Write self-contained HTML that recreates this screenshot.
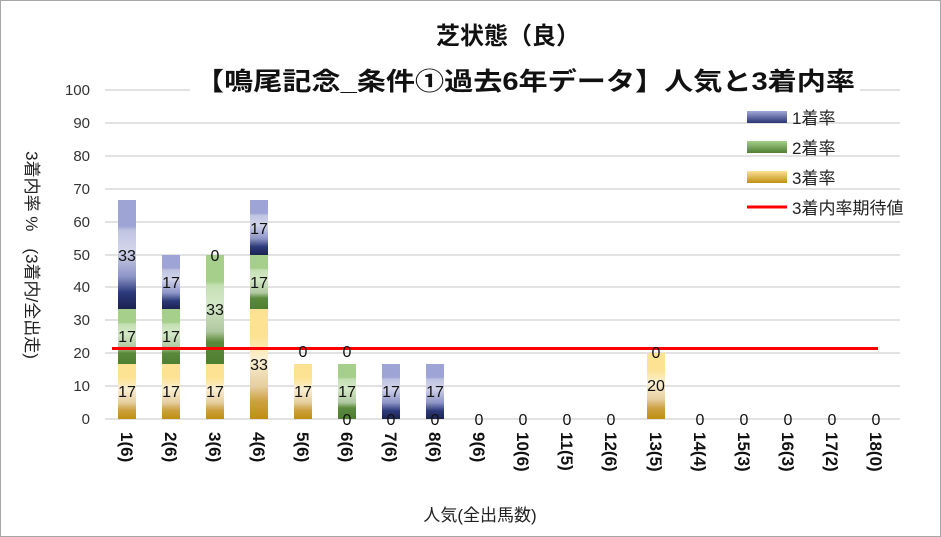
<!DOCTYPE html>
<html><head><meta charset="utf-8"><style>
html,body{margin:0;padding:0;background:#fff}
svg{display:block}
text{font-family:"Liberation Sans","Noto Sans CJK JP",sans-serif}
</style></head><body>
<svg width="941" height="537" viewBox="0 0 941 537" xmlns="http://www.w3.org/2000/svg">
<defs>
<linearGradient id="g3" x1="0" y1="1" x2="0" y2="0">
<stop offset="0" stop-color="#bf8f10"/><stop offset="0.16" stop-color="#cda040"/><stop offset="0.3" stop-color="#e6cfa0"/><stop offset="0.55" stop-color="#faefd3"/><stop offset="0.65" stop-color="#fde8b0"/><stop offset="0.75" stop-color="#fde294"/><stop offset="1" stop-color="#fde294"/>
</linearGradient>
<linearGradient id="g2" x1="0" y1="1" x2="0" y2="0">
<stop offset="0" stop-color="#4f7f30"/><stop offset="0.2" stop-color="#5a8a3a"/><stop offset="0.3" stop-color="#b0c8a0"/><stop offset="0.55" stop-color="#d3e8c6"/><stop offset="0.72" stop-color="#c5e0b4"/><stop offset="0.76" stop-color="#a5cf8a"/><stop offset="1" stop-color="#a5cf8a"/>
</linearGradient>
<linearGradient id="g1" x1="0" y1="1" x2="0" y2="0">
<stop offset="0" stop-color="#1c2250"/><stop offset="0.15" stop-color="#2c3a7c"/><stop offset="0.3" stop-color="#8f96c8"/><stop offset="0.55" stop-color="#d2d4ea"/><stop offset="0.72" stop-color="#c0c4e2"/><stop offset="0.76" stop-color="#9ea5d6"/><stop offset="1" stop-color="#9ea5d6"/>
</linearGradient>
<linearGradient id="l1" x1="0" y1="1" x2="0" y2="0"><stop offset="0" stop-color="#2a3472"/><stop offset="1" stop-color="#a0a8d8"/></linearGradient>
<linearGradient id="l2" x1="0" y1="1" x2="0" y2="0"><stop offset="0" stop-color="#4f7f30"/><stop offset="1" stop-color="#a5cf8a"/></linearGradient>
<linearGradient id="l3" x1="0" y1="1" x2="0" y2="0"><stop offset="0" stop-color="#bf8f10"/><stop offset="1" stop-color="#fde294"/></linearGradient>
</defs>
<rect x="0.5" y="0.5" width="940" height="536" fill="#fff" stroke="#a6a6a6"/>
<g stroke="#d9d9d9" stroke-width="1.5">
<line x1="105" x2="900" y1="90" y2="90"/><line x1="105" x2="900" y1="123" y2="123"/>
<line x1="105" x2="900" y1="156" y2="156"/><line x1="105" x2="900" y1="189" y2="189"/>
<line x1="105" x2="900" y1="222" y2="222"/><line x1="105" x2="900" y1="255" y2="255"/>
<line x1="105" x2="900" y1="287" y2="287"/><line x1="105" x2="900" y1="320" y2="320"/>
<line x1="105" x2="900" y1="353" y2="353"/><line x1="105" x2="900" y1="386" y2="386"/>
<line x1="105" x2="900" y1="419" y2="419"/>
</g>
<g font-size="15" fill="#333" text-anchor="end">
<text x="90" y="95">100</text><text x="90" y="128">90</text><text x="90" y="161">80</text>
<text x="90" y="194">70</text><text x="90" y="227">60</text><text x="90" y="260">50</text>
<text x="90" y="292">40</text><text x="90" y="325">30</text><text x="90" y="358">20</text>
<text x="90" y="391">10</text><text x="90" y="424">0</text>
</g>
<g>
<rect x="118" y="364" width="18" height="55" fill="url(#g3)"/><rect x="118" y="309" width="18" height="55" fill="url(#g2)"/><rect x="118" y="200" width="18" height="109" fill="url(#g1)"/>
<rect x="162" y="364" width="18" height="55" fill="url(#g3)"/><rect x="162" y="309" width="18" height="55" fill="url(#g2)"/><rect x="162" y="255" width="18" height="54" fill="url(#g1)"/>
<rect x="206" y="364" width="18" height="55" fill="url(#g3)"/><rect x="206" y="255" width="18" height="109" fill="url(#g2)"/>
<rect x="250" y="309" width="18" height="110" fill="url(#g3)"/><rect x="250" y="255" width="18" height="54" fill="url(#g2)"/><rect x="250" y="200" width="18" height="55" fill="url(#g1)"/>
<rect x="294" y="364" width="18" height="55" fill="url(#g3)"/>
<rect x="338" y="364" width="18" height="55" fill="url(#g2)"/>
<rect x="382" y="364" width="18" height="55" fill="url(#g1)"/>
<rect x="426" y="364" width="18" height="55" fill="url(#g1)"/>
<rect x="647" y="353" width="18" height="66" fill="url(#g3)"/>
</g>
<line x1="112" x2="878" y1="348.5" y2="348.5" stroke="#ff0000" stroke-width="3"/>
<g font-size="16" fill="#111" text-anchor="middle">
<text x="127" y="397">17</text><text x="127" y="342">17</text><text x="127" y="261">33</text>
<text x="171" y="397">17</text><text x="171" y="342">17</text><text x="171" y="288">17</text>
<text x="215" y="397">17</text><text x="215" y="315">33</text><text x="215" y="261">0</text>
<text x="259" y="370">33</text><text x="259" y="288">17</text><text x="259" y="234">17</text>
<text x="303" y="397">17</text><text x="303" y="357">0</text>
<text x="347" y="397">17</text><text x="347" y="357">0</text><text x="347" y="425">0</text>
<text x="391" y="397">17</text><text x="391" y="425">0</text>
<text x="435" y="397">17</text><text x="435" y="425">0</text>
<text x="479" y="425">0</text><text x="523" y="425">0</text><text x="567" y="425">0</text><text x="611" y="425">0</text>
<text x="656" y="391">20</text><text x="656" y="358">0</text>
<text x="700" y="425">0</text><text x="744" y="425">0</text><text x="788" y="425">0</text><text x="832" y="425">0</text><text x="876" y="425">0</text>
</g>
<g font-size="17" font-weight="bold" fill="#111">
<text transform="translate(121,432) rotate(90)">1(6)</text>
<text transform="translate(165,432) rotate(90)">2(6)</text>
<text transform="translate(209,432) rotate(90)">3(6)</text>
<text transform="translate(253,432) rotate(90)">4(6)</text>
<text transform="translate(297,432) rotate(90)">5(6)</text>
<text transform="translate(341,432) rotate(90)">6(6)</text>
<text transform="translate(385,432) rotate(90)">7(6)</text>
<text transform="translate(429,432) rotate(90)">8(6)</text>
<text transform="translate(473,432) rotate(90)">9(6)</text>
<text transform="translate(517,432) rotate(90)">10(6)</text>
<text transform="translate(561,432) rotate(90)">11(5)</text>
<text transform="translate(605,432) rotate(90)">12(6)</text>
<text transform="translate(650,432) rotate(90)">13(5)</text>
<text transform="translate(694,432) rotate(90)">14(4)</text>
<text transform="translate(738,432) rotate(90)">15(3)</text>
<text transform="translate(782,432) rotate(90)">16(3)</text>
<text transform="translate(826,432) rotate(90)">17(2)</text>
<text transform="translate(870,432) rotate(90)">18(0)</text>
</g>
<text x="480" y="521" font-size="17" fill="#222" text-anchor="middle">人気(全出馬数)</text>
<text transform="translate(26,255) rotate(90)" font-size="17" fill="#222" text-anchor="middle">3着内率 %　(3着内/全出走)</text>
<text x="508" y="44" font-size="24" font-weight="bold" fill="#111" text-anchor="middle">芝状態（良）</text>
<rect x="190" y="68" width="670" height="30" fill="#fff"/>
<text x="195" y="90" font-size="25" font-weight="bold" fill="#111" textLength="660" lengthAdjust="spacingAndGlyphs">【鳴尾記念_条件①過去6年データ】人気と3着内率</text>
<g font-size="17" fill="#222">
<rect x="747" y="111" width="40" height="12" fill="url(#l1)"/><text x="792" y="124">1着率</text>
<rect x="747" y="141" width="40" height="12" fill="url(#l2)"/><text x="792" y="154">2着率</text>
<rect x="747" y="171" width="40" height="12" fill="url(#l3)"/><text x="792" y="184">3着率</text>
<line x1="747" x2="787" y1="207" y2="207" stroke="#ff0000" stroke-width="3"/><text x="792" y="214">3着内率期待値</text>
</g>
</svg>
</body></html>
